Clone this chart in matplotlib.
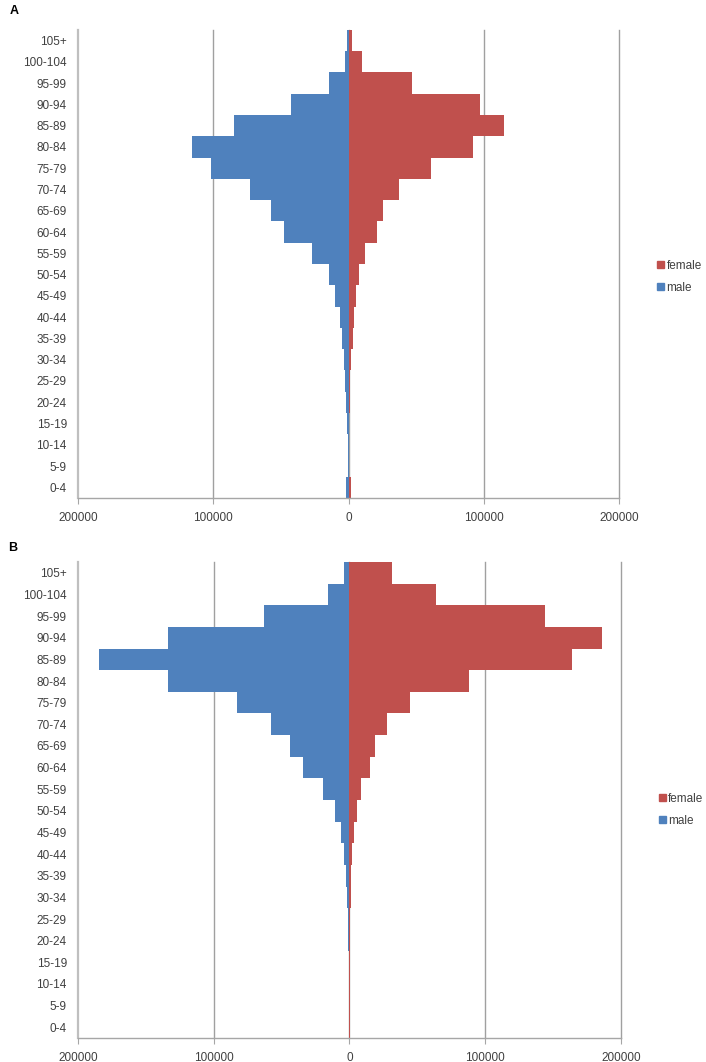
import numpy as np
import matplotlib.pyplot as plt
from matplotlib.patches import Patch

plt.rcParams['font.family'] = ['Liberation Sans', 'DejaVu Sans']

age_groups = ["0-4", "5-9", "10-14", "15-19", "20-24", "25-29", "30-34",
              "35-39", "40-44", "45-49", "50-54", "55-59", "60-64", "65-69",
              "70-74", "75-79", "80-84", "85-89", "90-94", "95-99",
              "100-104", "105+"]

# panel A
male_a = [1700, 700, 500, 1000, 1900, 2400, 3200, 4900, 6650, 9800, 14800,
          26800, 47700, 57100, 73200, 101700, 116000, 84500, 42900, 14300,
          2500, 1000]
female_a = [1500, 200, 200, 200, 700, 750, 1800, 3000, 3700, 5200, 7600,
            12300, 20700, 25600, 37200, 60900, 91600, 114800, 97300, 47000,
            9600, 2500]

# panel B
male_b = [700, 700, 500, 500, 1200, 1000, 1700, 2200, 3900, 6400, 11000,
          19600, 34600, 43900, 57500, 82800, 133800, 184700, 133400, 63100,
          15900, 4100]
female_b = [300, 300, 300, 300, 300, 300, 1200, 1200, 2200, 3500, 5700,
            8800, 15000, 18700, 27500, 44500, 88000, 163600, 186400, 143700,
            63900, 31200]

x_ticks = [-200000, -100000, 0, 100000, 200000]
x_ticklabels = ["200000", "100000", "0", "100000", "200000"]

blue = "#4F81BD"
red = "#C0504D"
text_col = "#404040"
axis_col = "#A6A6A6"


def pyramid(ax, male, female, legend_y):
    y = np.arange(len(age_groups))
    # gridlines drawn by hand so the edge ones are not clipped
    for xv in x_ticks[1:]:
        ax.axvline(xv, color="#A0A0A0", linewidth=1.0, clip_on=False, zorder=0)
    ax.barh(y, -np.array(male), height=1.0, color=blue, linewidth=0, zorder=2)
    ax.barh(y, female, height=1.0, color=red, linewidth=0, zorder=2)
    ax.set_xlim(-200000, 200000)
    ax.set_ylim(-0.5, len(age_groups) - 0.5)
    ax.set_yticks(y)
    ax.set_yticklabels(age_groups, fontsize=8.5, color=text_col)
    ax.set_xticks(x_ticks)
    ax.set_xticklabels(x_ticklabels, fontsize=8.5, color=text_col)
    ax.tick_params(axis='y', length=0, pad=8)
    ax.tick_params(axis='x', length=4, color=axis_col, pad=6)
    for s in ["top", "right"]:
        ax.spines[s].set_visible(False)
    ax.spines["left"].set_color("#BFBFBF")
    ax.spines["left"].set_linewidth(1.6)
    ax.spines["bottom"].set_color(axis_col)
    ax.spines["bottom"].set_linewidth(1.0)
    ax.spines["bottom"].set_zorder(3)
    handles = [Patch(color=red, label="female"), Patch(color=blue, label="male")]
    ax.legend(handles=handles, loc="center left", bbox_to_anchor=(1.05, legend_y),
              frameon=False, fontsize=8.5, handlelength=0.6, handleheight=0.6,
              handletextpad=0.2, labelspacing=0.85, labelcolor=text_col)


fig = plt.figure(figsize=(7.06, 10.62), dpi=100)
ax_a = fig.add_axes([0.1105, 0.5311, 0.7667, 0.4407])
ax_b = fig.add_axes([0.1105, 0.0226, 0.7690, 0.4482])

pyramid(ax_a, male_a, female_a, 0.473)
pyramid(ax_b, male_b, female_b, 0.48)

fig.text(0.014, 0.995, "A", fontsize=9, fontweight="bold", va="top")
fig.text(0.012, 0.4896, "B", fontsize=9, fontweight="bold", va="top")

fig.savefig("out.png", dpi=100)
